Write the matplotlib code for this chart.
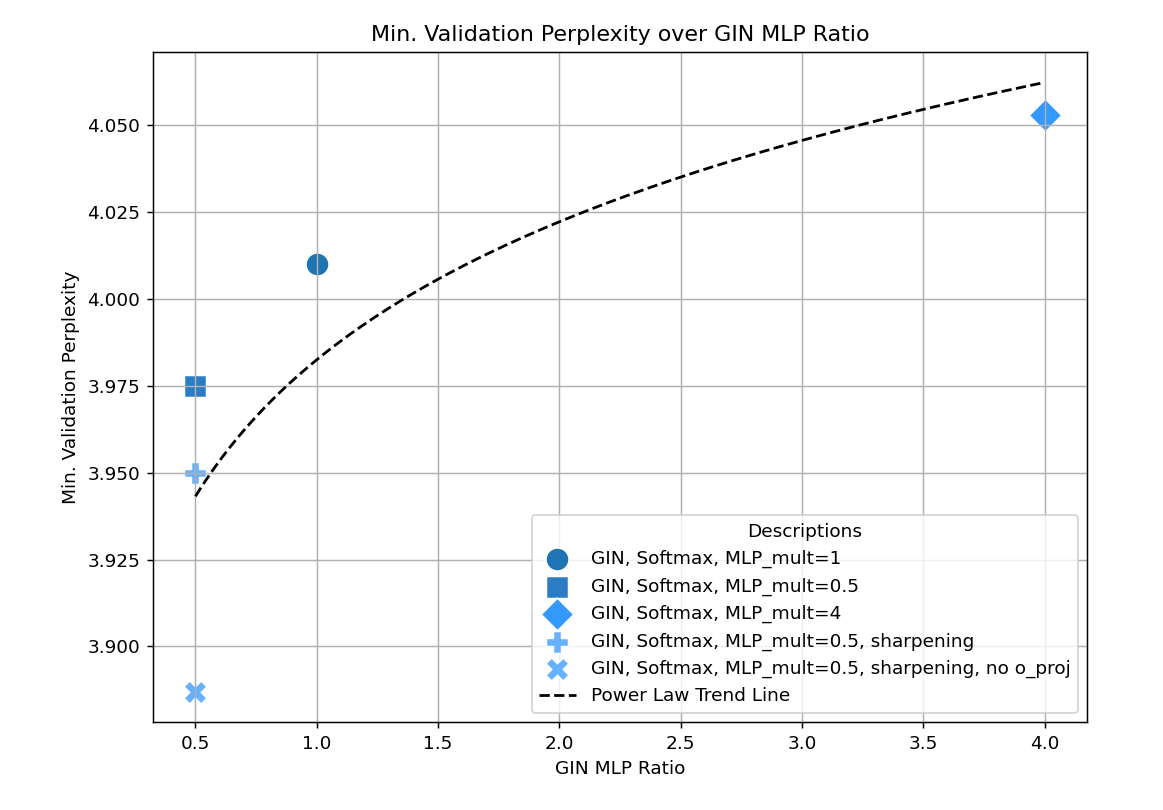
import numpy as np
import matplotlib
matplotlib.use("Agg")
import matplotlib.pyplot as plt

labels = [
    "GIN, Softmax, MLP_mult=1",
    "GIN, Softmax, MLP_mult=0.5",
    "GIN, Softmax, MLP_mult=4",
    "GIN, Softmax, MLP_mult=0.5, sharpening",
    "GIN, Softmax, MLP_mult=0.5, sharpening, no o_proj",
]
ratios = [1.0, 0.5, 4.0, 0.5, 0.5]
perplexities = [4.010, 3.975, 4.053, 3.950, 3.887]
markers = ["o", "s", "D", "P", "X"]
colors = ["#1f74b4", "#2a7dc4", "#3399ff", "#66b2ff", "#66b2ff"]

dpi = 133
fig = plt.figure(figsize=(1163 / dpi, 810 / dpi), dpi=dpi)
ax = fig.add_axes([153 / 1163, 1 - 722 / 810, (1087 - 153) / 1163, (722 - 52) / 810])

for lab, x, y, m, c in zip(labels, ratios, perplexities, markers, colors):
    ax.scatter([x], [y], marker=m, s=155, color=c, edgecolors="white",
               linewidths=0.8, label=lab)

# Power law fit: y = a * x^b
lx = np.log(np.array(ratios))
ly = np.log(np.array(perplexities))
b, loga = np.polyfit(lx, ly, 1)
xs = np.linspace(min(ratios), max(ratios), 200)
ax.plot(xs, np.exp(loga) * xs ** b, "k--", linewidth=1.5, label="Power Law Trend Line")

ax.grid(True)
ax.set_title("Min. Validation Perplexity over GIN MLP Ratio", fontsize=12)
ax.set_xlabel("GIN MLP Ratio")
ax.set_ylabel("Min. Validation Perplexity")
ax.yaxis.set_major_formatter(matplotlib.ticker.FormatStrFormatter("%.3f"))
ax.legend(title="Descriptions", loc="lower right")

fig.savefig("out.png", dpi=dpi)
